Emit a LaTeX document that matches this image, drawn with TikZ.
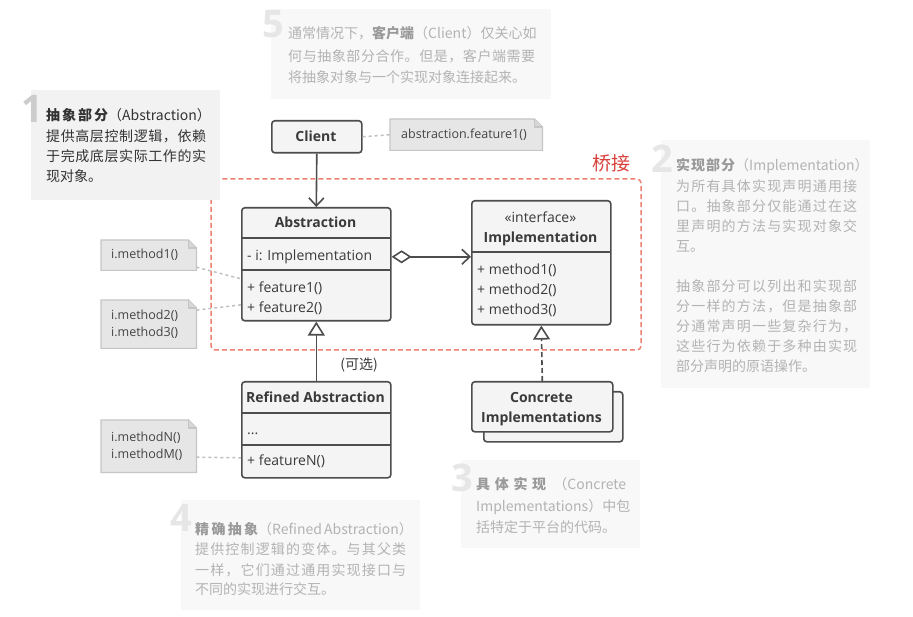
\documentclass[tikz,border=0pt]{standalone}
\usepackage{fontspec}
\setmainfont{Open Sans}
\newfontfamily\cjk{Noto Sans CJK SC}
\usetikzlibrary{arrows.meta}
\makeatletter
\def\my@spreadloop#1{\ifx#1\my@nil\else#1\expandafter\my@spreadnext\fi}
\def\my@spreadnext#1{\ifx#1\my@nil\else\hfil#1\expandafter\my@spreadnext\fi}
\def\my@nil{\my@nil}
\newcommand\sprd[2]{\hbox to #1{\my@spreadloop#2\my@nil}}
\makeatother
% first line: width, bold width, bold text, rest
\newcommand\headline[4]{\hbox to #1{\hbox to #2{\bfseries\sprdinner{#3}}\hfil#4}}
\newcommand\sprdinner[1]{\sprd{\hsize}{#1}}
\definecolor{umlborder}{HTML}{4D4D4D}
\definecolor{umlfill}{HTML}{F4F4F4}
\definecolor{umltext}{HTML}{3A3A3A}
\definecolor{cnfill}{HTML}{E6E6E6}
\definecolor{cnfold}{HTML}{D6D6D6}
\definecolor{cnborder}{HTML}{C6C6C6}
\definecolor{cntext}{HTML}{444444}
\definecolor{dotgrey}{HTML}{C0C0C0}
\definecolor{bridge}{HTML}{F08272}
\definecolor{bridgetext}{HTML}{D8403A}
\definecolor{activefill}{HTML}{F2F2F2}
\definecolor{activetext}{HTML}{333333}
\definecolor{activedigit}{HTML}{CCCCCC}
\definecolor{fadefill}{HTML}{F8F8F8}
\definecolor{fadetext}{HTML}{B3B3B3}
\definecolor{fadebold}{HTML}{9A9A9A}
\definecolor{fadedigit}{HTML}{E6E6E6}
\pgfdeclarelayer{bg}
\pgfsetlayers{bg,main}
\newcommand\foldframe[1]{%
  \begin{pgfonlayer}{bg}
  \draw[cnborder, line width=1.2pt, fill=cnfill] (#1.north west) -- ([xshift=-8pt]#1.north east) -- ([yshift=-8pt]#1.north east) -- (#1.south east) -- (#1.south west) -- cycle;
  \draw[cnborder, line width=1.2pt, fill=cnfold, line join=round] ([xshift=-8pt]#1.north east) -- ([xshift=-8pt,yshift=-8pt]#1.north east) -- ([yshift=-8pt]#1.north east);
  \end{pgfonlayer}}
\begin{document}
\begin{tikzpicture}[x=1pt,y=-1pt,
  umlbox/.style={draw=umlborder, fill=umlfill, line width=1.6pt, rounded corners=3pt, inner sep=0pt},
  umlsep/.style={draw=umlborder, line width=1.6pt},
  umltitle/.style={font=\fontsize{14}{16}\selectfont\bfseries, text=umltext, inner sep=0pt, text height=11pt, text depth=0pt},
  umlplain/.style={font=\fontsize{14}{16}\selectfont, text=umltext, inner sep=0pt, text height=11pt, text depth=0pt},
  umlmem/.style={umlplain, anchor=west},
  codenote/.style={inner sep=0pt, font=\fontsize{12.5}{17}\selectfont, text=cntext, align=left},
  conn/.style={draw=umlborder, line width=1.6pt},
  dotconn/.style={draw=dotgrey, line width=1.5pt, dash pattern=on 3pt off 3pt},
  openarrow/.style={-{Straight Barb[length=8pt,width=15pt]}},
  gen/.style={-{Triangle[fill=white,length=14pt,width=17pt]}},
  notebox/.style={inner sep=0pt, anchor=north west},
  activeline/.style={font=\cjk\fontsize{14}{20}\selectfont, text=activetext, anchor=base west, inner sep=0pt},
  fadeline/.style={font=\cjk\fontsize{14}{20}\selectfont, text=fadetext, anchor=base west, inner sep=0pt},
  digit/.style={font=\fontsize{38}{38}\selectfont\bfseries, anchor=base west, inner sep=0pt},
]
\useasboundingbox (0,0) rectangle (913,617);
\begin{pgfonlayer}{bg}
\fill[white] (0,0) rectangle (913,617);
\end{pgfonlayer}

% bridge region
\draw[bridge, line width=1.5pt, dash pattern=on 5pt off 3pt, rounded corners=4pt] (211,179) rectangle (641,350);
\node[text=bridgetext, font=\cjk\fontsize{19}{20}\selectfont, anchor=center, inner sep=0pt] (bridgelbl) at (611,163) {桥接};

% ---------- explanation notes ----------
% note 1 (active)
\node[notebox, fill=activefill, minimum width=189pt, minimum height=110pt] (note1) at (31,90) {};
\node[digit, text=activedigit] (d1) at (21,123) {1};
\node[activeline] (n1a) at (46,121) {\hbox to 160pt{\hbox to 62pt{\bfseries\sprd{62pt}{抽象部分}}\hfil（Abstraction）}};
\node[activeline] (n1b) at (46,141.5) {\sprd{160pt}{提供高层控制逻辑，依赖}};
\node[activeline] (n1c) at (46,161.5) {\sprd{160pt}{于完成底层实际工作的实}};
\node[activeline] (n1d) at (46,181.5) {现对象。};

% note 5
\node[notebox, fill=fadefill, minimum width=280pt, minimum height=90pt] (note5) at (271,9) {};
\node[digit, text=fadedigit] (d5) at (262,38) {5};
\node[fadeline] (n5a) at (288,39) {\hbox to 247pt{通常情况下，{\color{fadebold}\bfseries 客户端}\hfil（Client）\hfil 仅关心如}};
\node[fadeline] (n5b) at (288,61.5) {\sprd{247pt}{何与抽象部分合作。但是，客户端需要}};
\node[fadeline] (n5c) at (288,83) {将抽象对象与一个实现对象连接起来。};

% note 2
\node[notebox, fill=fadefill, minimum width=209pt, minimum height=248pt] (note2) at (661,140) {};
\node[digit, text=fadedigit] (d2) at (651,173) {2};
\node[fadeline] (n2a) at (676,171) {\hbox to 181pt{\hbox to 59pt{\bfseries\color{fadebold}\sprd{59pt}{实现部分}}\hfil（Implementation）}};
\node[fadeline] (n2b) at (676,192) {\sprd{181pt}{为所有具体实现声明通用接}};
\node[fadeline] (n2c) at (676,212) {\sprd{181pt}{口。抽象部分仅能通过在这}};
\node[fadeline] (n2d) at (676,232) {\sprd{181pt}{里声明的方法与实现对象交}};
\node[fadeline] (n2e) at (676,252) {互。};
\node[fadeline] (n2f) at (676,292) {\sprd{181pt}{抽象部分可以列出和实现部}};
\node[fadeline] (n2g) at (676,312) {\sprd{181pt}{分一样的方法，但是抽象部}};
\node[fadeline] (n2h) at (676,332) {\sprd{181pt}{分通常声明一些复杂行为，}};
\node[fadeline] (n2i) at (676,352) {\sprd{181pt}{这些行为依赖于多种由实现}};
\node[fadeline] (n2j) at (676,372) {部分声明的原语操作。};

% note 3
\node[notebox, fill=fadefill, minimum width=179pt, minimum height=88pt] (note3) at (461,460) {};
\node[digit, text=fadedigit] (d3) at (451,491) {3};
\node[fadeline] (n3a) at (476,489) {\hbox to 150pt{\hbox to 70pt{\bfseries\color{fadebold}\sprd{70pt}{具体实现}}\hfil（Concrete}};
\node[fadeline] (n3b) at (476,511) {Implementations）中包};
\node[fadeline] (n3c) at (476,532) {括特定于平台的代码。};

% note 4
\node[notebox, fill=fadefill, minimum width=239pt, minimum height=110pt] (note4) at (181,500) {};
\node[digit, text=fadedigit] (d4) at (170,531) {4};
\node[fadeline] (n4a) at (195,534) {\hbox to 211pt{\hbox to 63pt{\bfseries\color{fadebold}\sprd{63pt}{精确抽象}}\hfil（Refined Abstraction）}};
\node[fadeline] (n4b) at (195,554) {\sprd{211pt}{提供控制逻辑的变体。与其父类}};
\node[fadeline] (n4c) at (195,575) {\sprd{211pt}{一样，它们通过通用实现接口与}};
\node[fadeline] (n4d) at (195,594) {不同的实现进行交互。};

% ---------- UML ----------
% Client
\node[umlbox, minimum width=90pt, minimum height=32pt, anchor=north west] (client) at (271,120) {};
\node[umltitle] (clientlbl) at (316,136) {Client};

% Abstraction
\node[umlbox, minimum width=149pt, minimum height=113pt, anchor=north west] (abs) at (241,207) {};
\draw[umlsep] (241,238) -- (390,238);
\draw[umlsep] (241,270) -- (390,270);
\node[umltitle] (abst) at (315.5,222) {Abstraction};
\node[umlmem] (absi) at (247,255) {- i: Implementation};
\node[umlmem] (absf1) at (247,287) {+ feature1()};
\node[umlmem] (absf2) at (247,307) {+ feature2()};

% Implementation
\node[umlbox, minimum width=139pt, minimum height=124pt, anchor=north west] (impl) at (471,200) {};
\draw[umlsep] (471,252) -- (610,252);
\node[umlplain] (implst) at (540.5,217) {«interface»};
\node[umltitle] (implt) at (540.5,237) {Implementation};
\node[umlmem] (implm1) at (477,269) {+ method1()};
\node[umlmem] (implm2) at (477,289) {+ method2()};
\node[umlmem] (implm3) at (477,309) {+ method3()};

% Refined Abstraction
\node[umlbox, minimum width=149pt, minimum height=96pt, anchor=north west] (ref) at (241,381) {};
\draw[umlsep] (241,413) -- (390,413);
\draw[umlsep] (241,445) -- (390,445);
\node[umltitle] (reft) at (315.5,397) {Refined Abstraction};
\node[umlmem] (refdots) at (247,429) {...};
\node[umlmem] (reff) at (247,460) {+ featureN()};

% Concrete Implementations
\node[umlbox, minimum width=139pt, minimum height=50pt, anchor=north west] (concb) at (483,391) {};
\node[umlbox, minimum width=141pt, minimum height=50pt, anchor=north west] (conc) at (471,381) {};
\node[umltitle] (conct1) at (541.5,397) {Concrete};
\node[umltitle] (conct2) at (541.5,417) {Implementations};

% optional label
\node[font=\cjk\fontsize{14}{16}\selectfont, text=umltext, inner sep=0pt] (opt) at (359,365) {(可选)};

% code notes
\node[codenote, minimum width=152pt, minimum height=31pt, anchor=north west, text width=130pt, inner xsep=11pt] (cn0) at (390,119) {abstraction.feature1()};
\foldframe{cn0}
\node[codenote, minimum width=91pt, minimum height=30pt, anchor=north west, text width=75pt, inner xsep=10pt] (cn1) at (101,240) {i.method1()};
\foldframe{cn1}
\node[codenote, minimum width=91pt, minimum height=48pt, anchor=north west, text width=75pt, inner xsep=10pt] (cn2) at (101,300) {i.method2()\\i.method3()};
\foldframe{cn2}
\node[codenote, minimum width=91pt, minimum height=52pt, anchor=north west, text width=75pt, inner xsep=10pt] (cn3) at (101,420) {i.methodN()\\i.methodM()};
\foldframe{cn3}

% ---------- connectors ----------
\draw[conn, openarrow] (client.south) -- (abs.north);
\draw[dotconn] (client.east) -- (cn0.west);
\draw[conn, {Diamond[fill=white,length=20pt,width=13pt]}-{Straight Barb[length=8pt,width=15pt]}]
  ([yshift=7.5pt]abs.east) -- ([yshift=7.5pt]abs.east -| impl.west);
\draw[conn, gen] (ref.north) -- (abs.south);
\draw[conn, gen, dash pattern=on 5pt off 3pt] (conc.north) -- (impl.south);
\draw[dotconn] ([yshift=-12pt]cn1.east) -- ([yshift=-14.5pt]abs.west);
\draw[dotconn] ([yshift=14pt]cn2.east) -- ([yshift=-40.5pt]abs.west);
\draw[dotconn] ([yshift=-11pt]cn3.east) -- ([yshift=-28pt]ref.west);
\end{tikzpicture}
\end{document}
